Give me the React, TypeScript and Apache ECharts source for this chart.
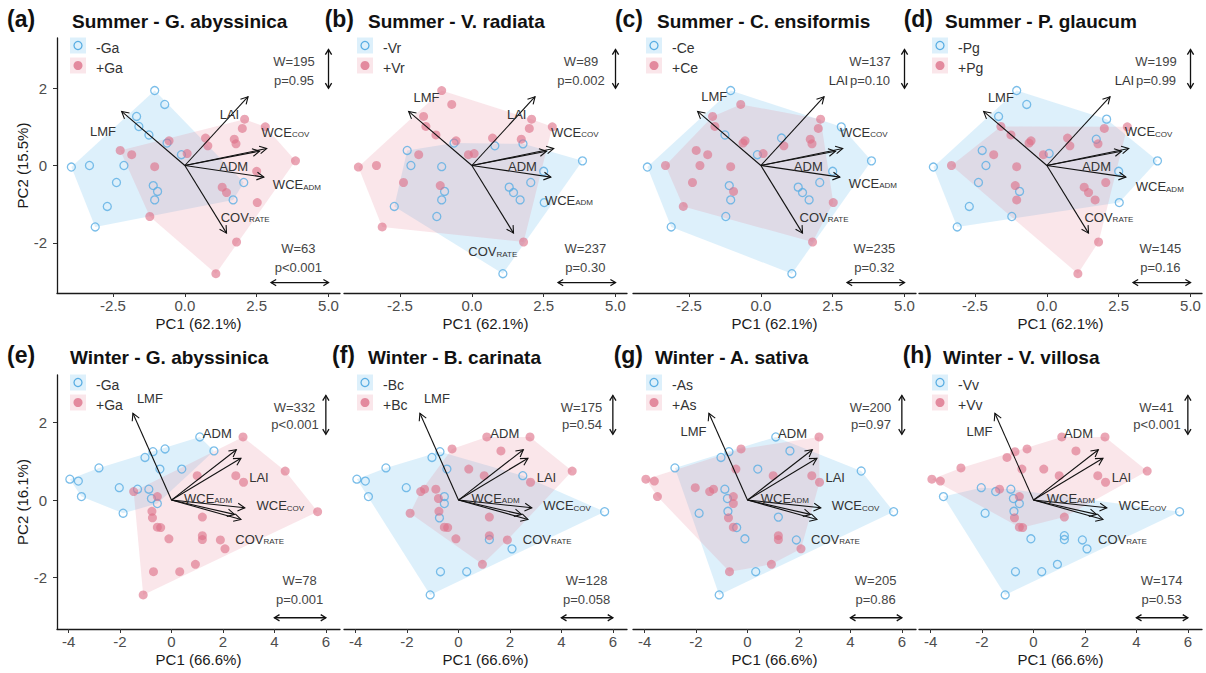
import React, { useEffect, useRef } from "react";
import * as echarts from "echarts";

// ---------------- data ----------------
// Summer PCA scores (shared by panels a-d)
const SUMMER_PC1 = [-1.05, -0.7, -1.68, -1.6, -1.25, -0.62, -0.12, -3.95, -3.32, -2.12, -2.38, -1.1, -0.95, -1.05, -2.7, -3.12, 2.05, 1.68, 2.08, 2.0, 2.8, 0.72, 0.8, 1.72, 1.78, -0.55, 0.08, -2.25, -1.85, -1.05, 3.85, 2.5, 1.3, 1.45, 2.52, -1.22, 1.8, 1.08];
const SUMMER_PC2 = [1.94, 1.58, 1.27, 1.01, 0.79, 0.58, 0.28, -0.04, 0.0, 0.0, -0.44, -0.52, -0.67, -0.89, -1.06, -1.59, -0.44, -0.89, 1.2, 0.96, 1.0, 0.71, 0.51, 0.68, 0.56, 0.64, 0.31, 0.39, 0.28, -0.03, 0.12, -0.15, -0.56, -0.7, -0.96, -1.32, -1.98, -2.8];
// 1 = species present (+), 0 = absent (-)
const GROUP_A = [0, 0, 0, 0, 0, 0, 0, 0, 0, 0, 0, 0, 0, 0, 0, 0, 0, 0, 1, 1, 1, 1, 1, 1, 1, 1, 1, 1, 1, 1, 1, 1, 1, 1, 1, 1, 1, 1];
const GROUP_B = [1, 1, 1, 1, 1, 0, 1, 1, 1, 0, 1, 1, 0, 0, 0, 1, 0, 0, 1, 1, 1, 1, 0, 1, 0, 1, 1, 0, 1, 0, 0, 0, 0, 0, 0, 0, 1, 0];
const GROUP_C = [0, 1, 1, 1, 0, 1, 0, 0, 1, 1, 1, 0, 1, 0, 1, 0, 0, 0, 1, 1, 0, 0, 1, 1, 1, 1, 1, 1, 1, 1, 0, 0, 0, 0, 1, 0, 1, 0];
const GROUP_D = [0, 0, 0, 1, 1, 1, 1, 0, 1, 0, 0, 1, 0, 1, 0, 0, 1, 1, 0, 1, 1, 1, 1, 0, 1, 1, 0, 0, 1, 1, 0, 0, 1, 1, 0, 0, 1, 1];

// Winter PCA scores (shared by panels e-h)
const WINTER_PC1 = [-3.95, -3.62, -3.5, -2.82, -2.03, -1.88, -1.47, -1.32, -1.03, -0.72, -0.88, -0.78, -0.55, -0.55, -0.76, -0.74, -0.55, -0.42, -0.1, -0.25, -0.45, 0.4, 1.0, 1.1, 1.65, 1.2, 1.2, 1.2, 1.9, 2.08, 2.5, 2.8, 2.78, 4.42, 5.68, 0.93, 0.32, -0.7, -1.1];
const WINTER_PC2 = [0.54, 0.49, 0.09, 0.83, 0.32, -0.34, 0.22, 0.28, 1.1, 1.25, 0.28, 0.04, 0.09, -0.09, -0.29, -0.46, -0.7, -0.71, -1.0, 1.32, 0.8, 0.8, 0.63, 1.63, 1.27, -0.44, -0.92, -1.02, -1.03, -1.26, 0.63, 0.46, 1.63, 0.75, -0.3, -1.66, -1.85, -1.85, -2.45];
const GROUP_E = [0, 0, 0, 0, 0, 0, 1, 0, 0, 0, 0, 0, 1, 0, 1, 1, 1, 1, 1, 0, 0, 0, 1, 0, 0, 1, 1, 1, 1, 1, 1, 1, 1, 1, 1, 1, 1, 1, 1];
const GROUP_F = [0, 0, 0, 0, 0, 1, 1, 1, 0, 0, 1, 1, 0, 0, 1, 0, 1, 1, 1, 1, 0, 1, 1, 1, 1, 1, 1, 0, 1, 0, 0, 1, 1, 1, 0, 1, 0, 0, 0];
const GROUP_G = [1, 1, 1, 0, 1, 0, 1, 1, 0, 0, 0, 0, 1, 1, 0, 1, 1, 0, 0, 1, 1, 0, 1, 0, 0, 0, 1, 1, 0, 1, 1, 1, 1, 0, 0, 1, 0, 1, 0];
const GROUP_H = [1, 1, 0, 1, 0, 0, 0, 1, 1, 1, 0, 0, 1, 0, 0, 1, 1, 1, 0, 1, 1, 1, 1, 1, 1, 1, 0, 0, 0, 0, 1, 1, 1, 1, 0, 0, 0, 0, 0];

// variable loadings (arrow tips): LMF, LAI, WCE_COV, ADM, WCE_ADM, COV_RATE
const VARIABLES = ["LMF", "LAI", "{m|WCE}{s|COV}", "ADM", "{m|WCE}{s|ADM}", "{m|COV}{s|RATE}"];
const SUMMER_LOAD_X = [-2.2, 2.2, 2.85, 2.6, 2.75, 1.45];
const SUMMER_LOAD_Y = [1.4, 1.78, 0.44, 0.37, -0.3, -1.75];
const WINTER_LOAD_X = [-1.5, 2.7, 2.85, 2.52, 2.45, 2.7];
const WINTER_LOAD_Y = [2.24, 1.08, -0.2, 1.3, -0.37, -0.5];

// repelled label positions per panel
const LABELS_A = [[-2.85, 0.88], [1.55, 1.31], [3.5, 0.88], [1.7, -0.03], [3.9, -0.48], [2.1, -1.32]];
const LABELS_B = [[-1.58, 1.76], [1.56, 1.31], [3.58, 0.88], [1.76, -0.03], [3.38, -0.89], [0.73, -2.22]];
const LABELS_C = [[-1.62, 1.78], [2.7, 2.21], [3.58, 0.88], [1.65, -0.03], [3.9, -0.44], [2.2, -1.32]];
const LABELS_D = [[-1.6, 1.76], [2.7, 2.21], [3.54, 0.89], [1.73, -0.03], [3.93, -0.54], [2.16, -1.33]];
const LABELS_E = [[-0.84, 2.62], [3.4, 0.58], [4.23, -0.14], [1.78, 1.72], [1.42, 0.06], [3.43, -1.0]];
const LABELS_F = [[-0.84, 2.62], [3.42, 0.58], [4.22, -0.14], [1.8, 1.72], [1.44, 0.06], [3.45, -1.0]];
const LABELS_G = [[-2.1, 1.76], [3.41, 0.58], [4.2, -0.14], [1.75, 1.72], [1.45, 0.06], [3.42, -1.0]];
const LABELS_H = [[-2.1, 1.76], [3.42, 0.58], [4.24, -0.14], [1.75, 1.72], [1.45, 0.06], [3.46, -1.0]];

const TAGS = ["(a)", "(b)", "(c)", "(d)", "(e)", "(f)", "(g)", "(h)"];
const TITLES = ["Summer - G. abyssinica", "Summer - V. radiata", "Summer - C. ensiformis", "Summer - P. glaucum", "Winter - G. abyssinica", "Winter - B. carinata", "Winter - A. sativa", "Winter - V. villosa"];
const CODES = ["Ga", "Vr", "Ce", "Pg", "Ga", "Bc", "As", "Vv"];
const W_PC2 = ["W=195", "W=89", "W=137", "W=199", "W=332", "W=175", "W=200", "W=41"];
const P_PC2 = ["p=0.95", "p=0.002", "p=0.10", "p=0.99", "p<0.001", "p=0.54", "p=0.97", "p<0.001"];
const W_PC1 = ["W=63", "W=237", "W=235", "W=145", "W=78", "W=128", "W=205", "W=174"];
const P_PC1 = ["p<0.001", "p=0.30", "p=0.32", "p=0.16", "p=0.001", "p=0.058", "p=0.86", "p=0.53"];

const SUMMER_X_TICKS = [-2.5, 0, 2.5, 5];
const WINTER_X_TICKS = [-4, -2, 0, 2, 4, 6];
const Y_TICKS = [-2, 0, 2];
const SUMMER_X_NAME = "PC1 (62.1%)";
const WINTER_X_NAME = "PC1 (66.6%)";
const SUMMER_Y_NAME = "PC2 (15.5%)";
const WINTER_Y_NAME = "PC2 (16.1%)";

// ---------------- styling / layout ----------------
const FONT = "'Liberation Sans', Arial, Helvetica, sans-serif";
const BLUE = "#5AAEE3";
const RED = "rgba(221,112,136,0.78)";
const BLUE_FILL = "rgba(86,180,233,0.2)";
const RED_FILL = "rgba(231,128,152,0.2)";
const LEFTS = [57, 344, 633, 919];
const TOPS = [38, 375];
const HEIGHTS = [255, 254];
const WIDTH = 283;
const TAG_X = [7, 354, 643, 933, 7, 355, 643, 932];
const TITLE_X = [72, 368, 657, 945, 70, 368, 655, 943];
const ROW_TEXT_Y = [20, 356];

const GROUPS = [GROUP_A, GROUP_B, GROUP_C, GROUP_D, GROUP_E, GROUP_F, GROUP_G, GROUP_H];
const LABELS = [LABELS_A, LABELS_B, LABELS_C, LABELS_D, LABELS_E, LABELS_F, LABELS_G, LABELS_H];

function convexHull(pts: number[][]) {
  const p = pts.slice().sort((a, b) => a[0] - b[0] || a[1] - b[1]);
  if (p.length < 3) return p;
  const cross = (o: number[], a: number[], b: number[]) => (a[0] - o[0]) * (b[1] - o[1]) - (a[1] - o[1]) * (b[0] - o[0]);
  const lower: number[][] = [];
  for (const q of p) {
    while (lower.length >= 2 && cross(lower[lower.length - 2], lower[lower.length - 1], q) <= 0) lower.pop();
    lower.push(q);
  }
  const upper: number[][] = [];
  for (let i = p.length - 1; i >= 0; i--) {
    const q = p[i];
    while (upper.length >= 2 && cross(upper[upper.length - 2], upper[upper.length - 1], q) <= 0) upper.pop();
    upper.push(q);
  }
  upper.pop();
  lower.pop();
  return lower.concat(upper);
}

function head(from: number[], to: number[], len: number, ang: number) {
  const dx = to[0] - from[0];
  const dy = to[1] - from[1];
  const L = Math.hypot(dx, dy) || 1;
  const bx = -dx / L;
  const by = -dy / L;
  const c = Math.cos(ang);
  const s = Math.sin(ang);
  const l = [to[0] + len * (bx * c - by * s), to[1] + len * (bx * s + by * c)];
  const r = [to[0] + len * (bx * c + by * s), to[1] + len * (-bx * s + by * c)];
  return [l, [to[0], to[1]], r];
}

function txtStyle(text: string, size: number, color: string, align: string, vAlign: string, weight = "normal", rich?: any) {
  const st: any = {
    text,
    fontSize: size,
    fontFamily: FONT,
    fontWeight: weight,
    fill: color,
    align,
    verticalAlign: vAlign,
    textAlign: align,
    textVerticalAlign: vAlign,
  };
  if (rich) st.rich = rich;
  return st;
}

const RICH = {
  m: { fontSize: 13, fontFamily: FONT, fill: "#333", color: "#333", lineHeight: 14, verticalAlign: "bottom" },
  s: { fontSize: 8, fontFamily: FONT, fill: "#333", color: "#333", lineHeight: 8, verticalAlign: "bottom", padding: [0, 0, 0, 0] },
};

function buildOption() {
  const grid: any[] = [];
  const xAxis: any[] = [];
  const yAxis: any[] = [];
  const series: any[] = [];
  const graphic: any[] = [];

  for (let k = 0; k < 8; k++) {
    const row = k < 4 ? 0 : 1;
    const col = k % 4;
    const summer = row === 0;
    const left = LEFTS[col];
    const top = TOPS[row];
    const height = HEIGHTS[row];
    const xs = summer ? SUMMER_PC1 : WINTER_PC1;
    const ys = summer ? SUMMER_PC2 : WINTER_PC2;
    const groups = GROUPS[k];
    const xr = summer ? [-4.45, 5.4] : [-4.45, 6.55];
    const yr = summer ? [-3.3, 3.3] : [-3.33, 3.23];

    grid.push({ left, top, width: WIDTH, height });
    xAxis.push({
      gridIndex: k,
      type: "value",
      min: xr[0],
      max: xr[1],
      axisLine: { show: true, onZero: false, lineStyle: { color: "#1a1a1a", width: 1.3 } },
      axisTick: { show: true, length: 4, customValues: summer ? SUMMER_X_TICKS : WINTER_X_TICKS, lineStyle: { color: "#333" } },
      axisLabel: {
        show: true,
        customValues: summer ? SUMMER_X_TICKS : WINTER_X_TICKS,
        formatter: (v: number) => (summer ? v.toFixed(1) : String(v)),
        fontSize: 15,
        color: "#4d4d4d",
        margin: 5,
        fontFamily: FONT,
      },
      splitLine: { show: false },
      name: summer ? SUMMER_X_NAME : WINTER_X_NAME,
      nameLocation: "middle",
      nameGap: 23,
      nameTextStyle: { fontSize: 15, color: "#1a1a1a", fontFamily: FONT },
    });
    if (col === 0) {
      yAxis.push({
        gridIndex: k,
        type: "value",
        min: yr[0],
        max: yr[1],
        axisLine: { show: true, onZero: false, lineStyle: { color: "#1a1a1a", width: 1.3 } },
        axisTick: { show: true, length: 4, customValues: Y_TICKS, lineStyle: { color: "#333" } },
        axisLabel: { show: true, customValues: Y_TICKS, formatter: (v: number) => String(v), fontSize: 15, color: "#4d4d4d", margin: 10, fontFamily: FONT },
        splitLine: { show: false },
        name: summer ? SUMMER_Y_NAME : WINTER_Y_NAME,
        nameLocation: "middle",
        nameGap: 26,
        nameRotate: 90,
        nameTextStyle: { fontSize: 15, color: "#1a1a1a", fontFamily: FONT },
      });
    } else {
      yAxis.push({ gridIndex: k, type: "value", min: yr[0], max: yr[1], show: false, splitLine: { show: false } });
    }

    // hulls and points
    for (const g of [0, 1]) {
      const pts = xs.map((x, i) => [x, ys[i]]).filter((_, i) => groups[i] === g);
      const hull = convexHull(pts);
      series.push({
        type: "custom",
        xAxisIndex: k,
        yAxisIndex: k,
        z: 1,
        silent: true,
        data: [[hull[0][0], hull[0][1]]],
        renderItem: (_p: any, api: any) => ({
          type: "polygon",
          shape: { points: hull.map((q) => api.coord(q)) },
          style: { fill: g ? RED_FILL : BLUE_FILL, stroke: "none" },
        }),
      });
    }
    for (const g of [0, 1]) {
      const pts = xs.map((x, i) => [x, ys[i]]).filter((_, i) => groups[i] === g);
      series.push({
        type: "scatter",
        xAxisIndex: k,
        yAxisIndex: k,
        z: 3,
        silent: true,
        symbol: "circle",
        symbolSize: g ? 9 : 8,
        data: pts,
        itemStyle: g ? { color: RED, borderWidth: 0 } : { color: "rgba(255,255,255,0)", borderColor: BLUE, borderWidth: 1.3 },
      });
    }

    // biplot arrows
    const lx = summer ? SUMMER_LOAD_X : WINTER_LOAD_X;
    const ly = summer ? SUMMER_LOAD_Y : WINTER_LOAD_Y;
    series.push({
      type: "custom",
      xAxisIndex: k,
      yAxisIndex: k,
      z: 4,
      silent: true,
      encode: { x: 0, y: 1 },
      data: lx.map((x, i) => [x, ly[i]]),
      renderItem: (_p: any, api: any) => {
        const o = api.coord([0, 0]);
        const e = api.coord([api.value(0), api.value(1)]);
        return {
          type: "group",
          children: [
            { type: "line", shape: { x1: o[0], y1: o[1], x2: e[0], y2: e[1] }, style: { stroke: "#111", lineWidth: 1.1 } },
            { type: "polyline", shape: { points: head(o, e, 8, 0.5) }, style: { stroke: "#111", lineWidth: 1.1, fill: "none" } },
          ],
        };
      },
    });

    // variable labels
    const lab = LABELS[k];
    series.push({
      type: "custom",
      xAxisIndex: k,
      yAxisIndex: k,
      z: 5,
      silent: true,
      encode: { x: 0, y: 1 },
      data: lab.map((p, i) => [p[0], p[1], i]),
      renderItem: (_p: any, api: any) => {
        const c = api.coord([api.value(0), api.value(1)]);
        const i = api.value(2);
        return { type: "text", x: c[0], y: c[1], style: txtStyle(VARIABLES[i], 13, "#333", "center", "middle", "normal", RICH) };
      },
    });

    // statistics annotations
    const tx = summer ? [3.8, 3.8, 3.95, 3.95] : [4.78, 4.8, 4.98, 4.98];
    const ty = summer ? [2.68, 2.21, -2.16, -2.65] : [2.38, 1.94, -2.09, -2.56];
    const texts = [W_PC2[k], P_PC2[k], W_PC1[k], P_PC1[k]];
    series.push({
      type: "custom",
      xAxisIndex: k,
      yAxisIndex: k,
      z: 6,
      silent: true,
      encode: { x: 0, y: 1 },
      data: tx.map((x, i) => [x, ty[i], i]),
      renderItem: (_p: any, api: any) => {
        const c = api.coord([api.value(0), api.value(1)]);
        return { type: "text", x: c[0], y: c[1], style: txtStyle(texts[api.value(2)], 13, "#444", "center", "middle") };
      },
    });
    const arrowsData = summer
      ? [[5, 2.0, 5, 3.0], [3, -3.03, 5, -3.03]]
      : [[6, 1.7, 6, 2.7], [4, -3.04, 6, -3.04]];
    series.push({
      type: "custom",
      xAxisIndex: k,
      yAxisIndex: k,
      z: 6,
      silent: true,
      encode: { x: [0, 2], y: [1, 3] },
      data: arrowsData,
      renderItem: (_p: any, api: any) => {
        const a = api.coord([api.value(0), api.value(1)]);
        const b = api.coord([api.value(2), api.value(3)]);
        return {
          type: "group",
          children: [
            { type: "line", shape: { x1: a[0], y1: a[1], x2: b[0], y2: b[1] }, style: { stroke: "#111", lineWidth: 1.3 } },
            { type: "polyline", shape: { points: head(a, b, 6, 0.55) }, style: { stroke: "#111", lineWidth: 1.3, fill: "none" } },
            { type: "polyline", shape: { points: head(b, a, 6, 0.55) }, style: { stroke: "#111", lineWidth: 1.3, fill: "none" } },
          ],
        };
      },
    });

    // tag and title
    const ty0 = ROW_TEXT_Y[row];
    graphic.push({ type: "text", x: TAG_X[k], y: ty0 - 1, style: txtStyle(TAGS[k], 23, "#111", col === 0 ? "left" : "right", "middle", "bold") });
    graphic.push({ type: "text", x: TITLE_X[k], y: ty0 + 1, style: txtStyle(TITLES[k], 19, "#111", "left", "middle", "bold") });

    // legend
    const kx = left + 13;
    const ky = [top - 0.5, top + 19.5];
    graphic.push({ type: "rect", shape: { x: kx, y: ky[0], width: 16, height: 16 }, style: { fill: BLUE_FILL } });
    graphic.push({ type: "rect", shape: { x: kx, y: ky[1], width: 16, height: 16 }, style: { fill: RED_FILL } });
    graphic.push({ type: "circle", shape: { cx: kx + 8, cy: ky[0] + 8, r: 4 }, style: { fill: "none", stroke: BLUE, lineWidth: 1.3 } });
    graphic.push({ type: "circle", shape: { cx: kx + 8, cy: ky[1] + 8, r: 4.5 }, style: { fill: RED } });
    graphic.push({ type: "text", x: kx + 26, y: ky[0] + 10, style: txtStyle("-" + CODES[k], 14, "#333", "left", "middle") });
    graphic.push({ type: "text", x: kx + 26, y: ky[1] + 10, style: txtStyle("+" + CODES[k], 14, "#333", "left", "middle") });
  }

  return {
    animation: false,
    backgroundColor: "#ffffff",
    textStyle: { fontFamily: FONT },
    grid,
    xAxis,
    yAxis,
    series,
    graphic,
  };
}

export default function App() {
  const ref = useRef<HTMLDivElement>(null);
  useEffect(() => {
    document.body.style.margin = "0";
    const chart = echarts.init(ref.current as HTMLDivElement, null, { renderer: "svg" });
    chart.setOption(buildOption() as any);
    return () => chart.dispose();
  }, []);
  return <div ref={ref} style={{ width: 1206, height: 673 }} />;
}
